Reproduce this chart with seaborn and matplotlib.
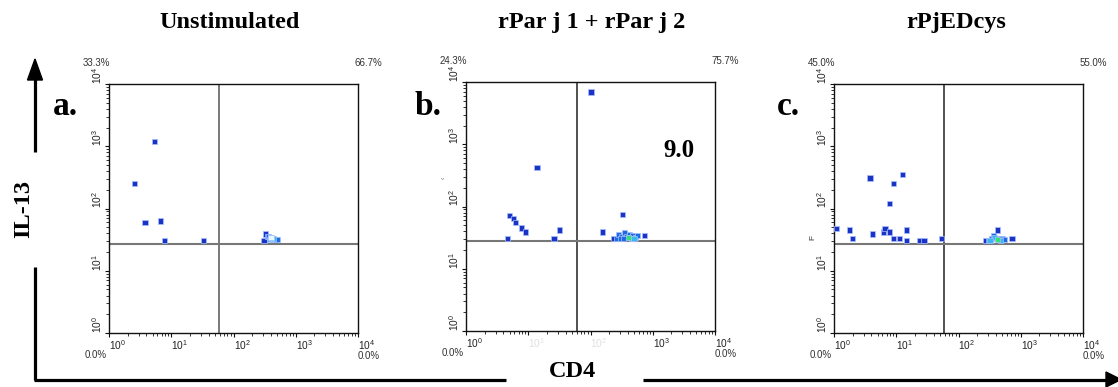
import numpy as np
import pandas as pd
import seaborn as sns
import matplotlib
matplotlib.use("Agg")
import matplotlib.pyplot as plt
from matplotlib.lines import Line2D
from matplotlib.patches import Polygon

sns.set_style("ticks")
plt.rcParams["font.family"] = ["Liberation Sans", "DejaVu Sans"]
plt.rcParams["mathtext.fontset"] = "custom"
plt.rcParams["mathtext.rm"] = "Liberation Sans"
plt.rcParams["mathtext.it"] = "Liberation Sans"
plt.rcParams["text.color"] = "black"

# ---------------- data ----------------
titles = ["Unstimulated", "rPar j 1 + rPar j 2", "rPjEDcys"]
panel_letters = ["a.", "b.", "c."]
quad_pct_tl = ["33.3%", "24.3%", "45.0%"]
quad_pct_tr = ["66.7%", "75.7%", "55.0%"]
quad_pct_bl = ["0.0%", "0.0%", "0.0%"]
quad_pct_br = ["0.0%", "0.0%", "0.0%"]
gate_x = [59, 60, 59]
gate_y = [27, 27.5, 27]
tick_vals = [1, 10, 100, 1000, 10000]
tick_labels = [r"$10^{0}$", r"$10^{1}$", r"$10^{2}$", r"$10^{3}$", r"$10^{4}$"]

# panel a (CD4, IL-13, density level)
a_cd4 = [5.4, 2.6, 3.8, 6.8, 7.8, 33, 310, 330, 350, 370, 395, 420, 450, 480, 510, 380, 410, 440, 400]
a_il13 = [1200, 250, 59, 63, 31, 31, 31, 39, 36, 35, 34, 33, 32, 32, 32, 32, 33, 33, 34]
a_level = [0, 0, 0, 0, 0, 0, 0, 0, 1, 1, 1, 1, 1, 1, 1, 2, 2, 2, 4]

# panel b
b_cd4 = [102, 13.8, 5.0, 5.8, 6.3, 7.8, 8.9, 4.7, 26, 32, 158, 330,
         234, 263, 282, 316, 355, 380, 417, 447, 479, 525, 575, 741, 300, 340, 455, 500, 407]
b_il13 = [6900, 417, 71, 65, 56, 45, 39, 31, 31, 42, 39, 74,
          31, 31, 35, 33, 38, 33, 35, 32, 34, 32, 34, 34, 31, 31, 31, 31, 32]
b_level = [0, 0, 0, 0, 0, 0, 0, 0, 0, 0, 0, 0,
           0, 1, 1, 1, 1, 1, 1, 2, 1, 2, 1, 0, 1, 1, 2, 2, 3]

# panel c
c_cd4 = [1.1, 1.8, 2.0, 3.8, 4.1, 6.2, 6.6, 7.8, 7.8, 8.9, 8.9, 11.2, 12.6, 14.8, 14.8, 24, 28, 54,
         269, 302, 339, 363, 380, 427, 457, 501, 537, 724, 320, 470, 417]
c_il13 = [48, 45, 33, 309, 39, 42, 48, 42, 120, 251, 33, 33, 355, 45, 31, 31, 31, 33,
          31, 31, 33, 37, 34, 45, 33, 33, 32, 33, 31, 31, 32]
c_level = [0, 0, 0, 0, 0, 0, 0, 0, 0, 0, 0, 0, 0, 0, 0, 0, 0, 0,
           0, 1, 1, 1, 2, 0, 1, 1, 1, 0, 2, 2, 3]

panels = [(a_cd4, a_il13, a_level), (b_cd4, b_il13, b_level), (c_cd4, c_il13, c_level)]
palette = {0: "#1a33c4", 1: "#1e6ae0", 2: "#38b8f0", 3: "#36e070", 4: "#e8f6ff"}

# ---------------- figure ----------------
W, H = 1118, 387
fig = plt.figure(figsize=(W / 100, H / 100), dpi=100)


def fx(px):
    return px / W


def fy(py):
    return 1 - py / H


ax_px = [(109, 84), (466, 82), (834, 84)]   # left, top in pixels
size_px = 249
serif = ["Liberation Serif", "DejaVu Serif"]

for i, (lp, tp) in enumerate(ax_px):
    ax = fig.add_axes([fx(lp), fy(tp + size_px), size_px / W, size_px / H])
    cd4, il13, lev = panels[i]
    df = pd.DataFrame({"CD4": cd4, "IL13": il13, "level": lev})
    ax.set_xscale("log")
    ax.set_yscale("log")
    ax.axvline(gate_x[i], color="#555555" if i == 0 else "#222222", lw=1.1, zorder=1)
    ax.axhline(gate_y[i], color="#777777", lw=1.5, zorder=1)
    sns.scatterplot(data=df, x="CD4", y="IL13", hue="level", palette=palette,
                    marker="s", s=14, linewidth=0.5, edgecolor="#a8c0ff",
                    legend=False, ax=ax, zorder=3)
    ax.set_xlim(1, 1e4)
    ax.set_ylim(1, 1e4)
    ax.set_xlabel("")
    ax.set_ylabel("")
    for sp in ax.spines.values():
        sp.set_color("#111111")
        sp.set_linewidth(1.0)
    ax.set_xticks(tick_vals)
    ax.set_yticks(tick_vals)
    ax.set_xticklabels(tick_labels, fontsize=7.3)
    ax.set_yticklabels(tick_labels, fontsize=7.3)
    ax.tick_params(axis="both", which="major", direction="out", length=3, width=0.8, pad=0.5,
                   colors="#111111", labelcolor="#222222")
    ax.tick_params(axis="both", which="minor", direction="out", length=2, width=0.6, colors="#111111")
    for lab in ax.get_xticklabels():
        lab.set_ha("left")
    for lab in ax.get_yticklabels():
        lab.set_rotation(90)
        lab.set_va("bottom")
    if i == 1:
        labs = ax.get_xticklabels()
        labs[1].set_color("#e0e0e0")
        labs[2].set_color("#e0e0e0")

    pct_kw = dict(transform=ax.transAxes, fontsize=7, color="#333333")
    ax.text(0.005, 1.084, quad_pct_tl[i], ha="right", va="center", **pct_kw)
    ax.text(0.986, 1.084, quad_pct_tr[i], ha="left", va="center", **pct_kw)
    ax.text(-0.008, -0.088, quad_pct_bl[i], ha="right", va="center", **pct_kw)
    ax.text(0.997, -0.092, quad_pct_br[i], ha="left", va="center", **pct_kw)

# titles
title_x = [230, 592, 956]
for t, x in zip(titles, title_x):
    fig.text(fx(x), fy(28), t, ha="center", va="baseline", fontsize=17.5,
             fontweight="bold", family=serif, color="black")

# panel letters
letter_x = [53, 415, 777]
for l, x in zip(panel_letters, letter_x):
    fig.text(fx(x), fy(115), l, ha="left", va="baseline", fontsize=24,
             fontweight="bold", family=serif, color="black")

# value annotation in panel b
fig.text(fx(663), fy(157), "9.0", ha="left", va="baseline", fontsize=18,
         fontweight="bold", family=serif, color="black")

# stray axis-label remnants
fig.text(fx(813), fy(237), "F", ha="center", va="center", fontsize=6, rotation=90, color="#333333")
fig.text(fx(444), fy(178), "\u2039", ha="center", va="center", fontsize=5, rotation=90, color="#666666")

# big axis arrows
lw_big = 2.3
fig.add_artist(Line2D([fx(35), fx(35)], [fy(380), fy(267)], transform=fig.transFigure, color="black", lw=lw_big, solid_capstyle="butt"))
fig.add_artist(Line2D([fx(35), fx(35)], [fy(152), fy(76)], transform=fig.transFigure, color="black", lw=lw_big, solid_capstyle="butt"))
fig.add_artist(Polygon([[fx(35), fy(59)], [fx(27.5), fy(80)], [fx(42.5), fy(80)]], closed=True,
                       transform=fig.transFigure, color="black"))
fig.add_artist(Line2D([fx(34), fx(506)], [fy(379.5), fy(379.5)], transform=fig.transFigure, color="black", lw=lw_big, solid_capstyle="butt"))
fig.add_artist(Line2D([fx(643), fx(1108)], [fy(379.5), fy(379.5)], transform=fig.transFigure, color="black", lw=lw_big, solid_capstyle="butt"))
fig.add_artist(Polygon([[fx(1121), fy(379.5)], [fx(1106), fy(372)], [fx(1106), fy(387)]], closed=True,
                       transform=fig.transFigure, color="black"))

fig.text(fx(24), fy(209), "IL-13", ha="center", va="center", rotation=90, fontsize=17.5,
         fontweight="bold", family=serif, color="black")
fig.text(fx(573), fy(377), "CD4", ha="center", va="baseline", fontsize=17.5,
         fontweight="bold", family=serif, color="black")

fig.savefig("out.png", dpi=100)
